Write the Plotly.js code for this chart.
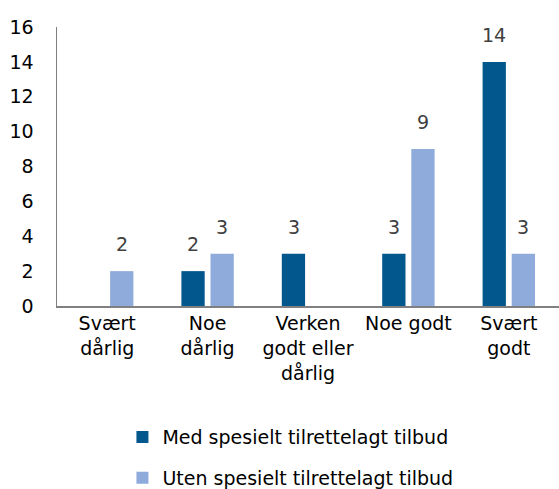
<!DOCTYPE html>
<html>
<head>
<meta charset="utf-8">
<script src="https://cdn.plot.ly/plotly-3.0.1.min.js"></script>
<style>
  html, body { margin: 0; padding: 0; background: #fff; }
  #chart { width: 559px; height: 489px; }
</style>
</head>
<body>
<div id="chart"></div>
<script>
// Categories and values
const categories = ["Svært<br>dårlig", "Noe<br>dårlig", "Verken<br>godt eller<br>dårlig", "Noe godt", "Svært<br>godt"];
const medValues  = [null, 2, 3, 3, 14];
const utenValues = [2, 3, null, 9, 3];
const seriesNames = ["Med spesielt tilrettelagt tilbud", "Uten spesielt tilrettelagt tilbud"];

const darkBlue = "#02578c";
const lightBlue = "#8fabdc";
const textColor = "#404040";
const fontFamily = "DejaVu Sans, sans-serif";

const med = {
  type: "bar",
  name: seriesNames[0],
  x: categories,
  y: medValues,
  marker: { color: darkBlue },
  legendgroup: "a",
  hoverinfo: "none"
};

const uten = {
  type: "bar",
  name: seriesNames[1],
  x: categories,
  y: utenValues,
  marker: { color: lightBlue },
  legendgroup: "b",
  hoverinfo: "none"
};

// value labels float well above each bar
const labels = [];
[[medValues, -14.5], [utenValues, 14.5]].forEach(([vals, shift]) => {
  vals.forEach((v, i) => {
    if (v == null) return;
    labels.push({
      x: categories[i], y: v, text: String(v),
      xref: "x", yref: "y",
      xshift: shift, yshift: 14,
      yanchor: "bottom", showarrow: false,
      font: { size: 19, color: textColor }
    });
  });
});

Plotly.newPlot("chart", [med, uten], {
  width: 559,
  height: 489,
  margin: { l: 57, r: 0, t: 27, b: 183 },
  paper_bgcolor: "#fff",
  plot_bgcolor: "#fff",
  font: { family: fontFamily, size: 19, color: textColor },
  barmode: "group",
  bargap: 0.42,
  bargroupgap: 0.2,
  showlegend: true,
  legend: {
    orientation: "v",
    yref: "container",
    x: 0.465, xanchor: "center",
    y: 0.145, yanchor: "top",
    traceorder: "grouped",
    tracegroupgap: 13,
    font: { size: 19, color: "#000" },
    itemwidth: 30
  },
  xaxis: {
    automargin: false,
    showline: true,
    linecolor: "#808080",
    linewidth: 1.5,
    ticks: "",
    showgrid: false,
    tickfont: { size: 19, color: "#000" }
  },
  yaxis: {
    automargin: false,
    range: [0, 16],
    dtick: 2,
    showline: true,
    linecolor: "#808080",
    linewidth: 1.5,
    ticks: "",
    showgrid: false,
    zeroline: false,
    ticklabelstandoff: 18,
    tickfont: { size: 19, color: "#000" }
  },
  annotations: labels
}, { displayModeBar: false, staticPlot: true });
</script>
</body>
</html>
